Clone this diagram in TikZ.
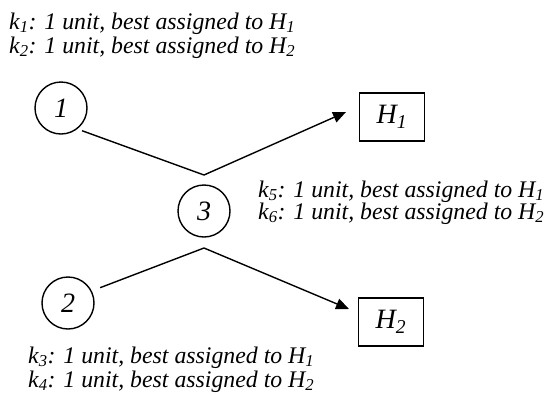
\documentclass[tikz,border=0pt]{standalone}
\usepackage{fontspec}
\setmainfont{Liberation Serif}
\usetikzlibrary{arrows.meta}
\tikzset{
  place/.style={circle, draw, line width=1.4pt, minimum size=52pt, inner sep=0pt, font=\itshape\fontsize{28}{28}\selectfont},
  hbox/.style={rectangle, draw, line width=1.4pt, minimum width=65pt, minimum height=48pt, inner sep=0pt, font=\itshape\fontsize{28}{28}\selectfont},
  note/.style={anchor=base west, inner sep=0pt, font=\itshape\fontsize{23.8}{24}\selectfont},
  link/.style={line width=1.4pt},
  tip/.style={-{Triangle[length=13pt,width=11pt]}}
}
\begin{document}
\begin{tikzpicture}[x=1pt,y=-1pt]
\useasboundingbox (0,0) rectangle (548,402);

% nodes
\node[place] (c1) at (61,108) {1};
\node[place] (c2) at (68,303) {2};
\node[place] (c3) at (204,211) {3};
\node[hbox] (h1) at (392,117) {H\textsubscript{1}};
\node[hbox] (h2) at (391,322) {H\textsubscript{2}};

% bends and arrow ends
\coordinate (b1) at (204,175);
\coordinate (b2) at (204,248);
\coordinate (t1) at (346,112);
\coordinate (t2) at (349,309);

% connectors
\draw[link, tip, shorten <=5pt] (c1.-52) -- (b1) -- (t1);
\draw[link, tip, shorten <=9pt] (c2.27) -- (b2) -- (t2);

% labels
\node[note] (k1) at (9,29) {k\textsubscript{1}: 1 unit, best assigned to H\textsubscript{1}};
\node[note] (k2) at (9,53) {k\textsubscript{2}: 1 unit, best assigned to H\textsubscript{2}};
\node[note] (k5) at (258,197) {k\textsubscript{5}: 1 unit, best assigned to H\textsubscript{1}};
\node[note] (k6) at (258,219) {k\textsubscript{6}: 1 unit, best assigned to H\textsubscript{2}};
\node[note] (k3) at (28,363) {k\textsubscript{3}: 1 unit, best assigned to H\textsubscript{1}};
\node[note] (k4) at (28,387) {k\textsubscript{4}: 1 unit, best assigned to H\textsubscript{2}};
\end{tikzpicture}
\end{document}
